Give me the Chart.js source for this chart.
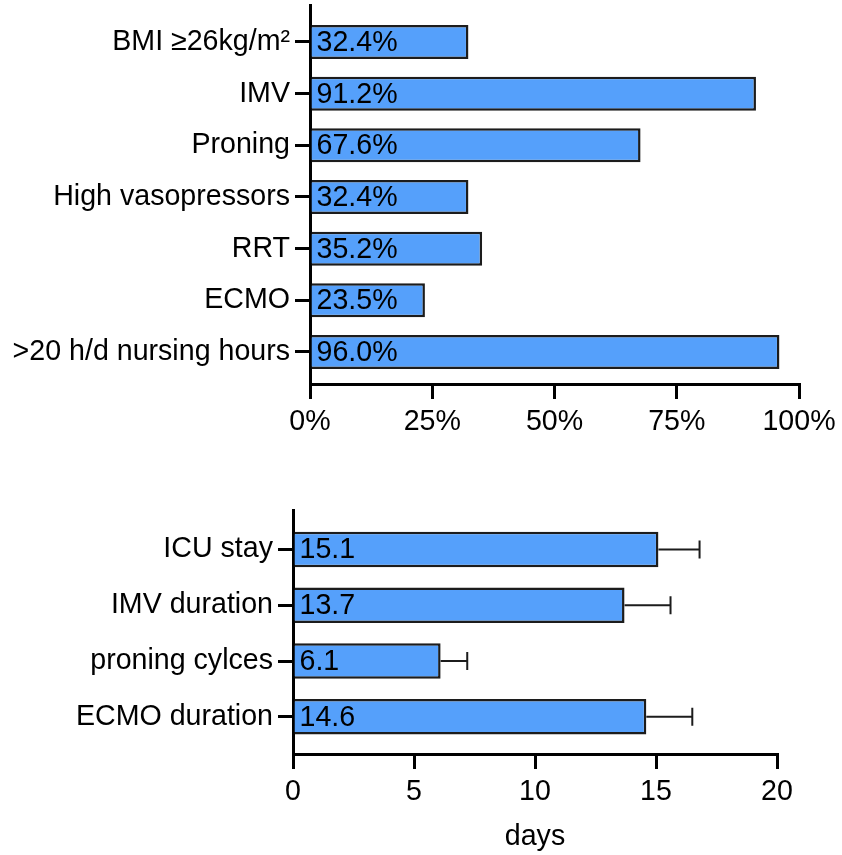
<!DOCTYPE html>
<html>
<head>
<meta charset="utf-8">
<script src="https://cdn.jsdelivr.net/npm/chart.js@4/dist/chart.umd.min.js"></script>
<style>
  html, body { margin: 0; padding: 0; background: #ffffff; }
  #wrap { position: relative; width: 842px; height: 855px; }
  #top { position: absolute; left: 0; top: 0; }
  #bottom { position: absolute; left: 0; top: 470px; }
</style>
</head>
<body>
<div id="wrap">
  <canvas id="top" width="842" height="450"></canvas>
  <canvas id="bottom" width="842" height="385"></canvas>
</div>
<script>
// Proportion of patients with each intervention (%)
const interventionLabels = ['BMI \u226526kg/m\u00b2', 'IMV', 'Proning', 'High vasopressors', 'RRT', 'ECMO', '>20 h/d nursing hours'];
const interventionPercent = [32.4, 91.2, 67.6, 32.4, 35.2, 23.5, 96.0];
const percentTicks = [0, 25, 50, 75, 100];

// Durations (mean and SD)
const durationLabels = ['ICU stay', 'IMV duration', 'proning cylces', 'ECMO duration'];
const durationMean = [15.1, 13.7, 6.1, 14.6];
const durationSD = [1.7, 1.9, 1.1, 1.9];
const dayTicks = [0, 5, 10, 15, 20];

const FONT = '"Liberation Sans", Arial, Helvetica, sans-serif';
const FONT_SIZE = 28.6;
const BAR_FILL = 'rgb(85,160,251)';
const BAR_EDGE = '#1c1c1c';

Chart.defaults.font.family = FONT;
Chart.defaults.color = '#000';
Chart.defaults.animation = false;

// Value written inside each bar, near its base
const valueLabels = {
  id: 'valueLabels',
  afterDatasetsDraw(chart, args, opts) {
    const ctx = chart.ctx;
    const meta = chart.getDatasetMeta(0);
    const values = chart.data.datasets[0].data;
    ctx.save();
    ctx.font = FONT_SIZE + 'px ' + FONT;
    ctx.fillStyle = '#000';
    ctx.textAlign = 'left';
    ctx.textBaseline = 'middle';
    meta.data.forEach((bar, i) => {
      const txt = values[i].x.toFixed(1) + (opts.suffix || '');
      ctx.fillText(txt, bar.base + 5, bar.y + 1);
    });
    ctx.restore();
  }
};

// One-sided SD whiskers drawn to the right of each bar
const sdWhiskers = {
  id: 'sdWhiskers',
  afterDatasetsDraw(chart, args, opts) {
    if (!opts.sd) return;
    const ctx = chart.ctx;
    const meta = chart.getDatasetMeta(0);
    const xs = chart.scales.x;
    const values = chart.data.datasets[0].data;
    ctx.save();
    ctx.strokeStyle = '#1c1c1c';
    ctx.lineWidth = 2;
    meta.data.forEach((bar, i) => {
      const end = xs.getPixelForValue(values[i].x + opts.sd[i]);
      ctx.beginPath();
      ctx.moveTo(bar.x, bar.y);
      ctx.lineTo(end, bar.y);
      ctx.moveTo(end, bar.y - 9);
      ctx.lineTo(end, bar.y + 9);
      ctx.stroke();
    });
    ctx.restore();
  }
};

const axisGrid = {
  drawOnChartArea: false,
  drawTicks: true,
  offset: false,
  tickLength: 15,
  tickWidth: 3,
  tickColor: '#000',
  lineWidth: 3,
  color: '#000'
};

function makeChart(canvas, cfg) {
  const labels = cfg.labels;
  return new Chart(canvas, {
    type: 'bar',
    data: {
      datasets: [{
        data: cfg.values.map((v, i) => ({ x: v, y: i })),
        backgroundColor: BAR_FILL,
        borderColor: BAR_EDGE,
        borderWidth: 2.5,
        borderSkipped: 'start',
        barPercentage: cfg.barPct,
        categoryPercentage: 1
      }]
    },
    options: {
      indexAxis: 'y',
      responsive: false,
      maintainAspectRatio: false,
      layout: { padding: cfg.padding },
      plugins: {
        legend: { display: false },
        tooltip: { enabled: false },
        valueLabels: { suffix: cfg.suffix },
        sdWhiskers: { sd: cfg.sd }
      },
      scales: {
        y: {
          type: 'linear',
          reverse: true,
          offset: false,
          min: cfg.yMin,
          max: cfg.yMax,
          afterBuildTicks: (s) => { s.ticks = labels.map((_, i) => ({ value: i })); },
          afterFit: (s) => { s.width = cfg.yWidth; s.paddingTop = 0; s.paddingBottom = 0; },
          ticks: {
            callback: (v) => labels[v],
            font: { size: FONT_SIZE },
            color: '#000',
            padding: 5
          },
          grid: axisGrid,
          border: { display: true, color: '#000', width: 3 }
        },
        x: {
          type: 'linear',
          offset: false,
          min: cfg.ticks[0],
          max: cfg.ticks[cfg.ticks.length - 1],
          afterBuildTicks: (s) => { s.ticks = cfg.ticks.map(v => ({ value: v })); },
          afterFit: (s) => { s.height = cfg.xHeight; s.paddingLeft = 0; s.paddingRight = 0; },
          ticks: {
            callback: (v) => v + (cfg.suffix || ''),
            font: { size: FONT_SIZE },
            color: '#000',
            padding: 6,
            maxRotation: 0,
            autoSkip: false
          },
          grid: axisGrid,
          border: { display: true, color: '#000', width: 3 },
          title: cfg.xTitle ? {
            display: true,
            text: cfg.xTitle,
            font: { size: FONT_SIZE },
            color: '#000',
            padding: { top: 0, bottom: 1 }
          } : { display: false }
        }
      }
    },
    plugins: [valueLabels, sdWhiskers]
  });
}

makeChart(document.getElementById('top'), {
  labels: interventionLabels,
  values: interventionPercent,
  ticks: percentTicks,
  suffix: '%',
  yMin: -0.716,
  yMax: 6.62,
  barPct: 0.658,
  yWidth: 310,
  xHeight: 66,
  padding: { top: 5, right: 43, left: 0, bottom: 0 }
});

makeChart(document.getElementById('bottom'), {
  labels: durationLabels,
  values: durationMean,
  sd: durationSD,
  ticks: dayTicks,
  suffix: '',
  xTitle: 'days',
  yMin: -0.709,
  yMax: 3.668,
  barPct: 0.637,
  yWidth: 293,
  xHeight: 101,
  padding: { top: 40, right: 65, left: 0, bottom: 0 }
});
</script>
</body>
</html>
